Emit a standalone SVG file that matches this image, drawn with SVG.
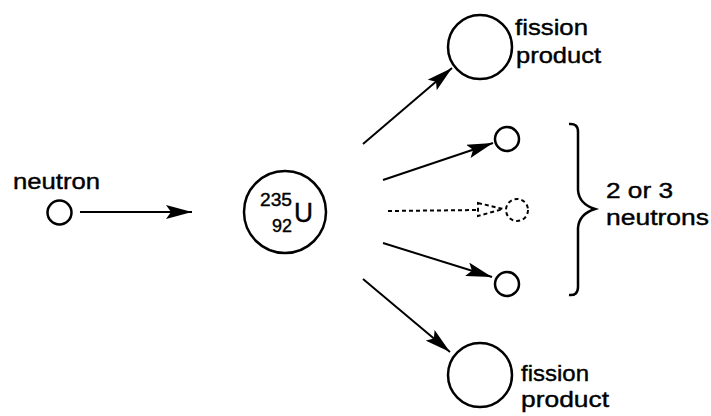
<svg xmlns="http://www.w3.org/2000/svg" width="711" height="416" viewBox="0 0 711 416">
<defs>
<style>
.c{fill:none;stroke:#000;stroke-width:2.5}
.d{fill:none;stroke:#000;stroke-width:2;stroke-dasharray:4 3}
.l{fill:none;stroke:#000;stroke-width:2}
.t{font-family:"Liberation Sans",Arial,sans-serif;font-size:22px;fill:#000;stroke:#000;stroke-width:0.4}
.s{font-family:"Liberation Sans",Arial,sans-serif;fill:#000;stroke:#000;stroke-width:0.4}
</style>
<marker id="ah" markerUnits="userSpaceOnUse" viewBox="0 0 26 14" refX="26" refY="7" markerWidth="26" markerHeight="14" orient="auto">
<path d="M0,0 L26,7 L0,14 L5,7 Z" fill="#000"/>
</marker>
</defs>
<rect width="711" height="416" fill="#fff"/>
<g id="connectors">
<line class="l" x1="80" y1="212" x2="192" y2="212" marker-end="url(#ah)"/>
<line class="l" x1="363" y1="144" x2="452" y2="68" marker-end="url(#ah)"/>
<line class="l" x1="383" y1="180" x2="493" y2="143" marker-end="url(#ah)"/>
<line class="d" x1="388" y1="211" x2="478" y2="210"/>
<path class="d" d="M478,203 L503,209 L478,216 Z" stroke-dasharray="3 3"/>
<line class="l" x1="383" y1="243" x2="492" y2="277" marker-end="url(#ah)"/>
<line class="l" x1="363" y1="279" x2="450" y2="352" marker-end="url(#ah)"/>
</g>
<g id="neutron">
<text class="t" x="13" y="189" textLength="87" lengthAdjust="spacingAndGlyphs">neutron</text>
<circle class="c" cx="59.5" cy="212.5" r="12"/>
</g>
<g id="uranium">
<circle class="c" cx="285" cy="212" r="41"/>
<text class="s" x="260" y="206" font-size="18" textLength="32" lengthAdjust="spacingAndGlyphs">235</text>
<text class="s" x="272" y="232" font-size="18" textLength="20" lengthAdjust="spacingAndGlyphs">92</text>
<text class="s" x="294" y="222" font-size="28" textLength="19" lengthAdjust="spacingAndGlyphs">U</text>
</g>
<g id="fission-top">
<circle class="c" cx="480" cy="47" r="32"/>
<text class="t" x="515" y="35" textLength="73" lengthAdjust="spacingAndGlyphs">fission</text>
<text class="t" x="516" y="63" textLength="85" lengthAdjust="spacingAndGlyphs">product</text>
</g>
<g id="neutron-1">
<circle class="c" cx="507" cy="139" r="12"/>
</g>
<g id="neutron-2">
<circle class="d" cx="517" cy="210" r="11" stroke-dasharray="5 4"/>
</g>
<g id="neutron-3">
<circle class="c" cx="507" cy="284" r="12"/>
</g>
<g id="fission-bottom">
<circle class="c" cx="480" cy="375" r="32"/>
<text class="t" x="521" y="381" textLength="68" lengthAdjust="spacingAndGlyphs">fission</text>
<text class="t" x="521" y="407" textLength="88" lengthAdjust="spacingAndGlyphs">product</text>
</g>
<g id="brace">
<path d="M569,124 Q578,123 578,132 L578,190 Q579,204 595,209 Q579,214 578,228 L578,287 Q578,296 569,295" fill="none" stroke="#000" stroke-width="2.5"/>
<text class="t" x="606" y="198" textLength="67" lengthAdjust="spacingAndGlyphs">2 or 3</text>
<text class="t" x="606" y="225" textLength="103" lengthAdjust="spacingAndGlyphs">neutrons</text>
</g>
</svg>
